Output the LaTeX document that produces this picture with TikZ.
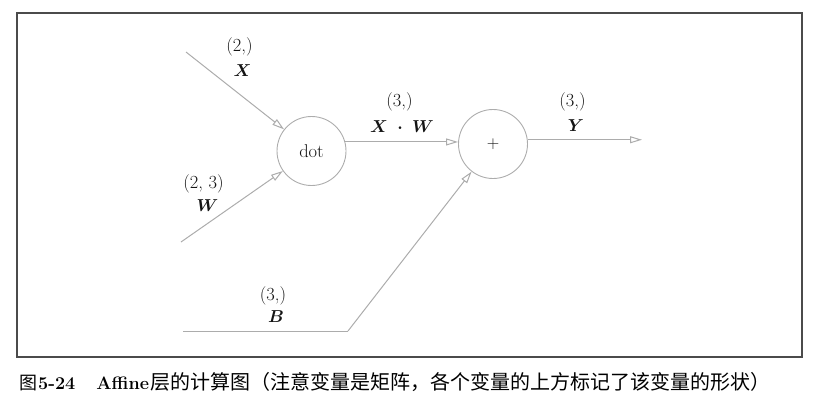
\documentclass[tikz,border=0pt]{standalone}
\usepackage{fontspec}
\usepackage{bm}
\usetikzlibrary{arrows.meta}
\newfontfamily\cjk{Noto Sans CJK SC}
\definecolor{linegray}{RGB}{172,172,172}
\definecolor{framegray}{RGB}{75,75,75}
\definecolor{txt}{RGB}{20,20,20}
\tikzset{
  conn/.style={draw=linegray, line width=1pt},
  arr/.style={conn, -{Triangle[open, length=12pt, width=7pt]}},
  opnode/.style={circle, draw=linegray, line width=0.9pt, minimum size=69pt, inner sep=0pt, text=txt, font=\fontsize{18.5}{22}\selectfont},
  lbl/.style={text=txt, inner sep=0pt, font=\fontsize{18.5}{22}\selectfont}
}
\begin{document}
\begin{tikzpicture}[x=1pt,y=-1pt]
\useasboundingbox (0,0) rectangle (817,402);
\draw[framegray, line width=1.4pt] (17,13) rectangle (802,357);
% operation nodes
\node[opnode] (dot) at (311.5,151) {dot};
\node[opnode] (plus) at (493,144) {$+$};
% free ends
\coordinate (xin) at (186,52);
\coordinate (win) at (181,242);
\coordinate (bin) at (183,331);
\coordinate (bbend) at (348,331);
\coordinate (yend) at (642,140);
% connectors
\draw[arr] (xin) -- (dot);
\draw[arr] (win) -- (dot);
\draw[arr] (dot.15) -- (dot.15 -| plus.west);
\draw[arr] (plus.7) -- (plus.7 -| yend);
\draw[conn] (bin) -- (bbend);
\draw[arr] (bbend) -- (plus);
% labels
\node[lbl] (xs) at (239.5,47) {(2,)};
\node[lbl] (xn) at (242.5,71) {$\bm{X}$};
\node[lbl] (ws) at (203.5,184) {(2, 3)};
\node[lbl] (wn) at (207.5,205.5) {$\bm{W}$};
\node[lbl] (xws) at (399.5,102) {(3,)};
\node[lbl] (xwn) at (402,126.5) {$\bm{X}\ \bm{\cdot}\ \bm{W}$};
\node[lbl] (ys) at (572.5,102) {(3,)};
\node[lbl] (yn) at (576,126) {$\bm{Y}$};
\node[lbl] (bs) at (273,296) {(3,)};
\node[lbl] (bn) at (276,316.5) {$\bm{B}$};
% caption
\node[anchor=base west, inner sep=0pt, text=black, font=\fontsize{18}{22}\selectfont] (cap) at (19,389)
  {{\cjk\fontsize{18}{22}\selectfont 图}\hspace{1pt}\textbf{5-24}\hspace{21pt}\textbf{Affine}\hspace{1pt}{\cjk\fontsize{20}{22}\selectfont 层的计算图（注意变量是矩阵，各个变量的上方标记了该变量的形状）}};
\end{tikzpicture}
\end{document}
